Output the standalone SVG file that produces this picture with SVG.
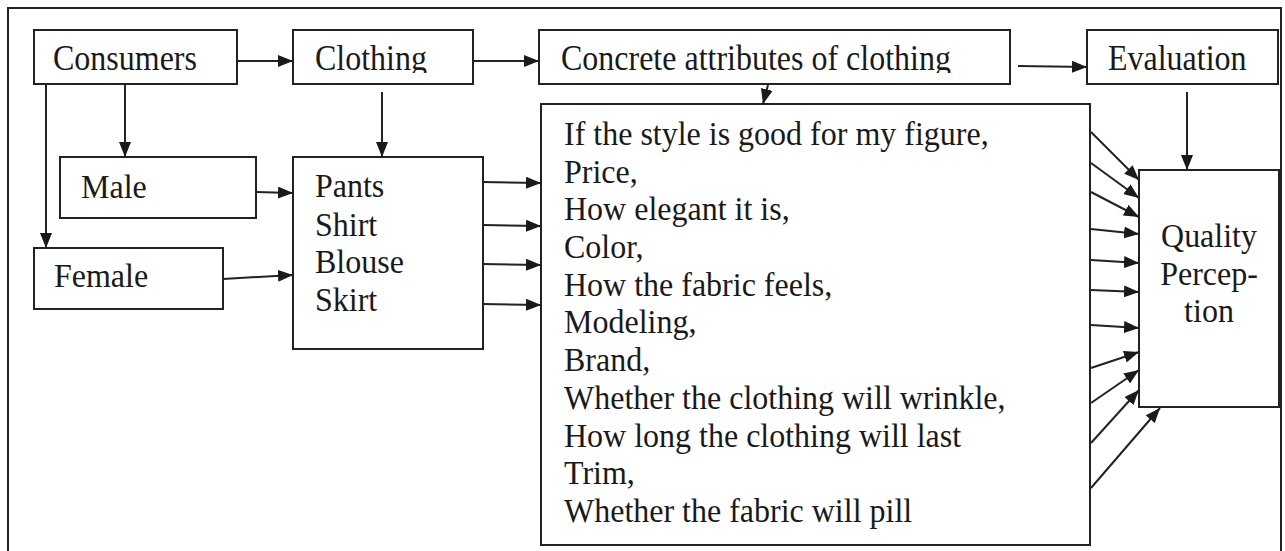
<svg xmlns="http://www.w3.org/2000/svg" width="1285" height="551" viewBox="0 0 1285 551">
<style>
.box{fill:#fff;stroke:#222;stroke-width:2}
.t{font-family:"Liberation Serif","Times New Roman",serif;font-size:32px;fill:#1a1a1a}
.c line{stroke:#222;stroke-width:2;marker-end:url(#ah)}
</style>
<defs>
<marker id="ah" markerUnits="userSpaceOnUse" markerWidth="15" markerHeight="12" refX="15" refY="6" orient="auto">
<path d="M0,0 L15,6 L0,12 z" fill="#1a1a1a"/>
</marker>
<clipPath id="topclip"><rect x="0" y="0" width="1285" height="73"/></clipPath>
</defs>
<rect x="0" y="0" width="1285" height="551" fill="#fff"/>
<rect x="8" y="8" width="1273" height="570" fill="none" stroke="#222" stroke-width="2"/>
<g id="consumers"><rect class="box" x="34" y="30" width="203" height="54"/><text class="t" transform="translate(53,70) scale(1,1.1)">Consumers</text></g>
<g id="clothing"><rect class="box" x="293" y="30" width="180" height="54"/><g clip-path="url(#topclip)"><text class="t" transform="translate(315,70) scale(1,1.1)">Clothing</text></g></g>
<g id="concrete"><rect class="box" x="539" y="30" width="471" height="54"/><g clip-path="url(#topclip)"><text class="t" transform="translate(561,70) scale(1,1.1)">Concrete attributes of clothing</text></g></g>
<g id="evaluation"><rect class="box" x="1087" y="30" width="191" height="54"/><text class="t" transform="translate(1108,70) scale(1,1.1)">Evaluation</text></g>
<g id="male"><rect class="box" x="60" y="157" width="196" height="61"/><text class="t" transform="translate(81,198) scale(1,1.04)">Male</text></g>
<g id="female"><rect class="box" x="34" y="248" width="189" height="61"/><text class="t" transform="translate(54,287) scale(1,1.04)">Female</text></g>
<g id="items"><rect class="box" x="293" y="157" width="190" height="192"/>
<text class="t" transform="translate(315,197) scale(1,1.04)">Pants</text>
<text class="t" transform="translate(315,236) scale(1,1.04)">Shirt</text>
<text class="t" transform="translate(315,273) scale(1,1.04)">Blouse</text>
<text class="t" transform="translate(315,311) scale(1,1.04)">Skirt</text></g>
<g id="attributes"><rect class="box" x="541" y="104" width="549" height="441"/>
<text class="t" transform="translate(564,145) scale(1,1.05)">If the style is good for my figure,</text>
<text class="t" transform="translate(564,183) scale(1,1.05)">Price,</text>
<text class="t" transform="translate(564,220) scale(1,1.05)">How elegant it is,</text>
<text class="t" transform="translate(564,258) scale(1,1.05)">Color,</text>
<text class="t" transform="translate(564,296) scale(1,1.05)">How the fabric feels,</text>
<text class="t" transform="translate(564,333) scale(1,1.05)">Modeling,</text>
<text class="t" transform="translate(564,371) scale(1,1.05)">Brand,</text>
<text class="t" transform="translate(564,409) scale(1,1.05)">Whether the clothing will wrinkle,</text>
<text class="t" transform="translate(564,447) scale(1,1.05)">How long the clothing will last</text>
<text class="t" transform="translate(564,484) scale(1,1.05)">Trim,</text>
<text class="t" transform="translate(564,522) scale(1,1.05)">Whether the fabric will pill</text></g>
<g id="quality"><rect class="box" x="1139" y="170" width="140" height="237"/>
<text class="t" text-anchor="middle" transform="translate(1209,247) scale(1,1.05)">Quality</text>
<text class="t" text-anchor="middle" transform="translate(1209,285) scale(1,1.05)">Percep-</text>
<text class="t" text-anchor="middle" transform="translate(1209,322) scale(1,1.05)">tion</text></g>
<g id="connectors" class="c">
<line x1="237" y1="61" x2="293" y2="61"/>
<line x1="473" y1="61" x2="539" y2="61"/>
<line x1="1018" y1="66" x2="1087" y2="67"/>
<line x1="768" y1="85" x2="763" y2="104"/>
<line x1="1187" y1="92" x2="1187" y2="170"/>
<line x1="125" y1="84" x2="125" y2="157"/>
<line x1="46" y1="84" x2="46" y2="248"/>
<line x1="382" y1="92" x2="382" y2="157"/>
<line x1="256" y1="192" x2="293" y2="193"/>
<line x1="223" y1="279" x2="293" y2="275"/>
<line x1="483" y1="182" x2="541" y2="183"/>
<line x1="483" y1="225" x2="541" y2="226"/>
<line x1="483" y1="264" x2="541" y2="265"/>
<line x1="483" y1="304" x2="541" y2="305"/>
<line x1="1091" y1="132" x2="1139" y2="180"/>
<line x1="1091" y1="163" x2="1139" y2="198"/>
<line x1="1091" y1="192" x2="1139" y2="217"/>
<line x1="1091" y1="229" x2="1139" y2="234"/>
<line x1="1091" y1="260" x2="1139" y2="263"/>
<line x1="1091" y1="290" x2="1139" y2="292"/>
<line x1="1091" y1="325" x2="1139" y2="328"/>
<line x1="1091" y1="368" x2="1139" y2="352"/>
<line x1="1091" y1="403" x2="1139" y2="370"/>
<line x1="1091" y1="443" x2="1139" y2="390"/>
<line x1="1091" y1="488" x2="1160" y2="408"/>
</g>
</svg>
